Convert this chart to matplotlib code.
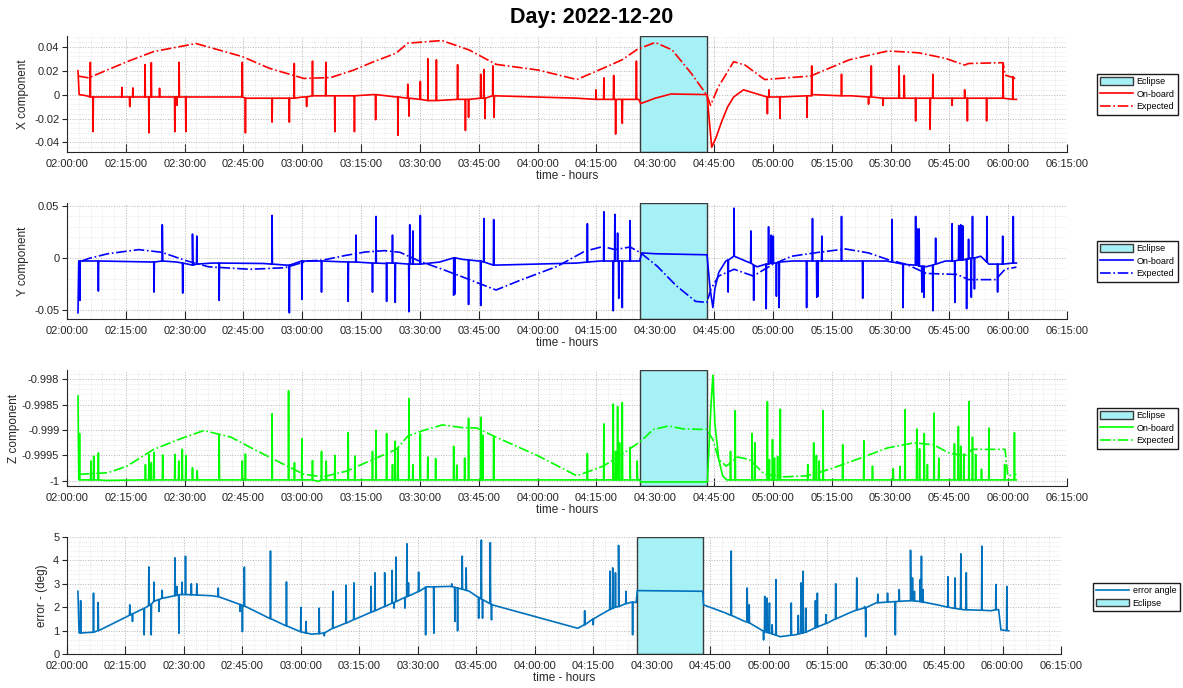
import numpy as np
import pandas as pd
import matplotlib
matplotlib.use('Agg')
import matplotlib.pyplot as plt
import matplotlib.dates as mdates
from matplotlib.ticker import FixedLocator, FuncFormatter, AutoMinorLocator

plt.rcParams['font.family'] = ['Liberation Sans', 'DejaVu Sans']

# all times are minutes after 02:00:00
t0 = pd.Timestamp('2022-12-20 02:00:00')
eclipse = (146.1, 163.2)

# ---- X component ----
x_exp = [(2.8, 0.0155), (5.5, 0.014), (15.3, 0.0275), (22.1, 0.036), (32.9, 0.0427), (44.7, 0.0318),
         (51.6, 0.022), (60.4, 0.0135), (67.3, 0.0143), (73.1, 0.0205), (78.2, 0.0275), (83.9, 0.0346),
         (86.9, 0.043), (95.6, 0.0452), (102.5, 0.0374), (109.4, 0.0253), (120.2, 0.0205), (130.0, 0.0126),
         (136.7, 0.022), (141.5, 0.029), (145.5, 0.038), (150.0, 0.0436), (154.3, 0.0374), (159.2, 0.0177),
         (163.2, -0.0006), (164.1, -0.009), (166.1, 0.0065), (170.0, 0.0275), (172.9, 0.0247), (177.9, 0.0126),
         (189.6, 0.0155), (199.4, 0.029), (209.3, 0.0365), (217.1, 0.035), (224.0, 0.0303), (228.9, 0.0247),
         (229.9, 0.026), (238.7, 0.0267), (239.2, 0.0163), (241.2, 0.0143), (242.1, 0.013)]
x_base = [(2.8, 0.020), (3.1, 0.0), (5.0, -0.001), (6.0, -0.002), (44.0, -0.002), (46.0, -0.003), (58.0, -0.003),
          (60.0, -0.002), (62.5, -0.001), (72.0, -0.001), (78.0, 0.0), (84.0, -0.002), (92.0, -0.005),
          (100.0, -0.004), (106.0, -0.003), (109.0, -0.001), (130.0, -0.003), (145.8, -0.004), (146.3, -0.0075),
          (150.0, -0.003), (154.0, 0.0005), (163.2, 0.0), (164.4, -0.044), (165.5, -0.036), (167.0, -0.022),
          (168.5, -0.010), (170.0, -0.002), (172.5, 0.004), (174.5, 0.002), (177.5, -0.001), (180.0, -0.002),
          (190.0, 0.0), (200.0, -0.001), (210.0, -0.003), (230.0, -0.003), (242.1, -0.004)]
# (time, peak, level under the spike)
x_spk = [(5.96, 0.027, -0.002), (6.65, -0.031, -0.002), (14.0, 0.006, -0.002), (16.0, -0.010, -0.002),
         (16.8, 0.0056, -0.002), (19.9, 0.025, -0.002), (20.9, -0.032, -0.002), (21.5, 0.0267, -0.002),
         (23.6, 0.0053, -0.002), (27.5, -0.031, -0.002), (28.0, -0.009, -0.002), (28.6, 0.027, -0.002),
         (30.3, -0.031, -0.002), (44.7, 0.027, -0.002), (45.5, -0.032, -0.003), (52.3, -0.023, -0.003),
         (56.7, -0.023, -0.003), (57.96, 0.026, -0.003), (61.1, -0.010, -0.002), (62.6, 0.028, -0.001),
         (66.0, 0.027, -0.001), (68.3, -0.031, -0.001), (73.3, -0.031, -0.001), (78.7, -0.021, 0.0),
         (84.4, -0.034, -0.002), (86.9, 0.0087, -0.003), (87.2, -0.018, -0.003), (90.1, 0.011, -0.004),
         (92.0, 0.030, -0.005), (94.2, 0.029, -0.005), (99.6, 0.025, -0.004), (101.6, -0.030, -0.004),
         (102.4, -0.019, -0.004), (105.5, 0.017, -0.003), (106.3, 0.021, -0.003), (106.6, -0.020, -0.003),
         (108.6, 0.024, -0.001), (108.9, -0.019, -0.001), (134.9, 0.004, -0.004), (136.9, 0.014, -0.004),
         (139.4, 0.016, -0.004), (139.9, -0.033, -0.004), (141.6, -0.024, -0.004), (145.2, 0.028, -0.004),
         (178.6, -0.016, -0.002), (179.0, 0.004, -0.002), (181.8, -0.020, -0.002), (188.7, -0.019, -0.001),
         (189.9, 0.024, -0.001), (197.5, 0.017, -0.001), (204.4, -0.008, -0.002), (205.1, 0.024, -0.002),
         (208.1, -0.009, -0.003), (212.2, 0.024, -0.003), (213.5, 0.016, -0.003), (216.4, -0.022, -0.003),
         (220.1, -0.029, -0.003), (220.8, 0.017, -0.003), (225.7, -0.009, -0.003), (228.9, 0.004, -0.003),
         (229.6, -0.022, -0.003), (234.5, -0.022, -0.003), (238.7, 0.026, -0.003), (241.2, 0.015, -0.004)]

# ---- Y component ----
y_exp = [(3.8, -0.003), (5.5, -0.0006), (10.4, 0.004), (18.3, 0.008), (24.2, 0.0054), (30.2, -0.0025),
         (36.1, -0.0086), (46.7, -0.011), (55.5, -0.0095), (61.4, -0.003), (65.2, -0.0022), (71.2, 0.0025),
         (76.1, 0.0057), (81.0, 0.007), (84.9, 0.0054), (89.8, -0.003), (95.7, -0.011), (100.6, -0.018),
         (109.4, -0.031), (115.3, -0.022), (125.1, -0.008), (132.0, 0.0064), (136.7, 0.011), (139.7, 0.008),
         (143.6, 0.0105), (146.3, 0.0048), (150.5, -0.008), (155.4, -0.027), (160.3, -0.042), (163.2, -0.043),
         (164.2, -0.030), (166.2, -0.0175), (170.1, -0.011), (175.0, -0.0175), (179.9, -0.0064), (184.8, 0.0016),
         (191.7, 0.0054), (198.5, 0.0086), (204.4, 0.0048), (209.3, -0.0016), (214.2, -0.0064), (219.1, -0.015),
         (227.0, -0.016), (229.9, -0.021), (236.8, -0.021), (239.2, -0.011), (242.1, -0.0089)]
y_base = [(2.8, -0.053), (3.0, -0.003), (22.0, -0.004), (24.3, -0.0025), (28.0, -0.004), (32.0, -0.007),
          (37.0, -0.005), (50.0, -0.0054), (56.0, -0.007), (60.0, -0.003), (65.0, -0.003), (71.0, -0.004),
          (81.0, -0.0054), (90.0, -0.006), (95.0, -0.004), (98.6, 0.0), (101.0, -0.0015), (105.0, -0.003),
          (109.0, -0.007), (130.0, -0.005), (136.0, -0.003), (146.0, -0.003), (146.6, 0.0048), (150.0, 0.004),
          (163.2, 0.003), (164.0, -0.030), (164.7, -0.048), (165.2, -0.030), (166.2, -0.014), (168.0, -0.003),
          (170.0, 0.0016), (173.0, -0.003), (176.0, -0.0086), (180.0, -0.005), (185.0, -0.003), (209.0, -0.003),
          (214.0, -0.0064), (219.0, -0.0086), (224.0, -0.003), (229.0, -0.0016), (233.0, 0.0016),
          (235.0, -0.006), (242.1, -0.005)]
y_spk = [(3.3, -0.041, -0.003), (8.0, -0.032, -0.003), (22.2, -0.033, -0.004), (24.3, 0.032, -0.003),
         (29.5, -0.034, -0.005), (32.0, 0.023, -0.007), (33.1, 0.021, -0.006), (38.8, -0.041, -0.005),
         (52.3, 0.041, -0.006), (56.7, -0.053, -0.007), (59.9, -0.040, -0.003), (64.9, -0.033, -0.003),
         (71.7, -0.042, -0.004), (73.7, 0.022, -0.004), (77.9, -0.033, -0.005), (78.8, 0.040, -0.005),
         (81.5, -0.042, -0.005), (83.0, 0.022, -0.005), (83.7, -0.043, -0.005), (87.2, -0.052, -0.006),
         (87.4, 0.032, -0.006), (88.2, 0.026, -0.006), (90.1, 0.041, -0.006), (98.6, -0.036, 0.0),
         (98.9, -0.035, 0.0), (102.4, -0.045, -0.002), (105.5, -0.046, -0.003), (106.3, 0.038, -0.004),
         (108.8, 0.037, -0.007), (132.7, 0.033, -0.004), (136.9, 0.0445, -0.003), (139.3, -0.051, -0.003),
         (139.7, 0.042, -0.003), (140.4, 0.024, -0.003), (140.7, -0.039, -0.003), (141.6, -0.048, -0.003),
         (143.6, 0.036, -0.003), (168.6, -0.033, -0.002), (170.1, 0.048, 0.0016), (174.4, 0.026, -0.005),
         (175.1, -0.041, -0.007), (178.3, -0.049, -0.006), (178.9, 0.030, -0.006), (179.6, 0.022, -0.005),
         (180.1, 0.021, -0.005), (180.9, -0.037, -0.005), (181.6, -0.048, -0.004), (188.6, -0.048, -0.003),
         (190.1, 0.038, -0.003), (191.2, -0.038, -0.003), (191.5, -0.037, -0.003), (192.5, 0.021, -0.003),
         (197.5, 0.040, -0.003), (202.9, -0.039, -0.003), (210.4, 0.037, -0.004), (213.2, -0.048, -0.006),
         (216.4, 0.040, -0.007), (216.8, 0.028, -0.007), (217.3, 0.028, -0.008), (218.0, -0.033, -0.008),
         (218.5, -0.038, -0.008), (220.8, -0.051, -0.007), (221.5, 0.019, -0.006), (225.7, 0.033, -0.003),
         (226.4, -0.043, -0.003), (227.4, 0.031, -0.002), (227.9, 0.032, -0.002), (228.4, 0.031, -0.002),
         (229.4, -0.049, -0.001), (229.9, 0.018, -0.001), (230.6, -0.038, 0.0), (230.9, 0.040, 0.0),
         (231.4, -0.030, 0.0), (234.6, 0.040, -0.004), (237.3, -0.033, -0.006), (238.6, 0.021, -0.006),
         (241.3, 0.040, -0.005)]

# ---- Z component ----
z_exp = [(3.0, -0.99987), (10.4, -0.99984), (15.3, -0.99971), (22.1, -0.99938), (29.0, -0.99917),
         (34.9, -0.99901), (41.8, -0.99914), (47.7, -0.99938), (53.6, -0.99961), (60.4, -0.99987),
         (65.2, -0.99992), (71.2, -0.99981), (77.1, -0.99961), (84.0, -0.99938), (86.9, -0.99912),
         (90.8, -0.99901), (95.7, -0.99890), (100.6, -0.99895), (104.5, -0.99896), (109.4, -0.99914),
         (120.2, -0.99951), (130.0, -0.99990), (136.7, -0.99971), (141.5, -0.99948), (146.3, -0.99922),
         (149.5, -0.99899), (153.4, -0.99892), (157.3, -0.99898), (163.2, -0.99899), (164.7, -0.99919),
         (166.2, -0.99958), (168.1, -0.99971), (171.0, -0.99953), (174.0, -0.99958), (177.9, -0.99987),
         (182.8, -0.99992), (188.7, -0.99990), (194.5, -0.99977), (202.4, -0.99955), (209.3, -0.99935),
         (216.1, -0.99925), (221.0, -0.99929), (224.9, -0.99945), (228.9, -0.99951), (230.8, -0.99938),
         (239.2, -0.99938), (239.9, -0.99990), (242.1, -0.99987)]
z_base = [(2.8, -0.99833), (3.0, -0.99996), (10.0, -0.99999), (60.0, -0.99998), (64.0, -1.00001),
          (68.0, -0.99998), (145.8, -0.99997), (146.3, -1.00002), (163.3, -1.00002), (164.2, -0.99854),
          (164.7, -0.99792), (165.2, -0.99886), (166.2, -0.99958), (167.2, -0.99990), (168.2, -0.99998),
          (242.1, -0.99998)]
z_floor = -0.99998
z_spk = [(3.2, -0.99907), (6.1, -0.99961), (6.8, -0.99951), (8.0, -0.99945), (20.0, -0.99968),
         (20.9, -0.99948), (21.5, -0.99964), (22.2, -0.99944), (24.4, -0.99949), (27.5, -0.99948),
         (28.5, -0.99961), (29.4, -0.99938), (30.3, -0.99950), (32.0, -0.99974), (33.2, -0.99980),
         (38.8, -0.99911), (44.7, -0.99961), (45.5, -0.99947), (52.3, -0.99868), (56.5, -0.99823),
         (58.0, -0.99964), (59.9, -0.99917), (62.6, -0.99960), (64.9, -0.99942), (66.1, -0.99961),
         (68.3, -0.99950), (71.7, -0.99905), (73.4, -0.99951), (77.9, -0.99942), (78.8, -0.99901),
         (81.5, -0.99907), (83.0, -0.99968), (83.7, -0.99922), (84.4, -0.99937), (87.2, -0.99838),
         (88.2, -0.99968), (90.1, -0.99907), (92.0, -0.99953), (94.0, -0.99956), (98.6, -0.99932),
         (99.4, -0.99969), (101.4, -0.99955), (102.4, -0.99877), (105.5, -0.99875), (106.0, -0.99910),
         (108.8, -0.99914), (132.7, -0.99946), (136.9, -0.99888), (139.3, -0.99849), (139.9, -0.99942),
         (140.4, -0.99854), (140.9, -0.99925), (141.6, -0.99846), (143.6, -0.99934), (145.4, -0.99961),
         (169.2, -0.99942), (170.4, -0.99862), (174.7, -0.99907), (175.4, -0.99925), (178.6, -0.99844),
         (179.1, -0.99958), (179.9, -0.99919), (180.4, -0.99955), (181.2, -0.99952), (181.9, -0.99859),
         (188.9, -0.99968), (190.4, -0.99925), (191.1, -0.99950), (191.8, -0.99961), (192.8, -0.99862),
         (197.8, -0.99929), (203.2, -0.99921), (205.4, -0.99971), (210.7, -0.99976), (212.4, -0.99971),
         (213.7, -0.99860), (216.7, -0.99898), (217.4, -0.99937), (218.6, -0.99907), (219.4, -0.99968),
         (221.1, -0.99867), (222.3, -0.99955), (226.3, -0.99927), (227.3, -0.99893), (227.9, -0.99932),
         (228.7, -0.99947), (230.0, -0.99844), (230.9, -0.99914), (231.7, -0.99948), (233.2, -0.99977),
         (235.1, -0.99896), (239.1, -0.99968), (241.6, -0.99905)]

# ---- error angle (deg) ----
err_base = [(2.8, 2.68), (3.1, 0.90), (6.5, 0.93), (8.5, 1.03), (15.4, 1.60), (22.3, 2.25), (29.0, 2.54),
            (37.1, 2.49), (44.7, 2.10), (51.9, 1.53), (59.8, 0.96), (62.7, 0.85), (65.5, 0.89), (71.6, 1.32),
            (81.5, 2.03), (90.4, 2.68), (92.3, 2.87), (98.2, 2.89), (103.2, 2.68), (109.1, 2.10), (131.0, 1.10),
            (136.9, 1.68), (141.5, 2.03), (144.9, 2.22), (146.0, 2.20), (146.3, 2.71), (163.1, 2.68),
            (163.3, 2.10), (169.0, 1.75), (173.9, 1.39), (178.9, 0.96), (182.9, 0.74), (186.8, 0.82),
            (192.7, 1.17), (200.6, 1.75), (207.5, 2.18), (216.4, 2.28), (223.3, 2.10), (230.1, 1.89),
            (237.0, 1.85), (239.0, 1.90), (239.6, 1.03), (241.6, 0.99)]
err_spk = [(3.5, 2.28, 0.90), (6.8, 2.60, 0.93), (8.0, 2.20, 1.00), (16.1, 2.10, 1.66), (16.8, 1.39, 1.72),
           (19.8, 0.82, 1.95), (21.0, 3.72, 2.07), (21.6, 0.82, 2.13), (22.3, 3.07, 2.25), (23.6, 1.82, 2.33),
           (24.4, 2.72, 2.38), (27.7, 4.11, 2.49), (28.2, 2.89, 2.51), (28.7, 0.89, 2.52), (29.5, 3.07, 2.54),
           (30.4, 4.18, 2.54), (31.9, 3.00, 2.53), (33.3, 3.00, 2.52), (38.8, 2.82, 2.45), (44.4, 1.82, 2.12),
           (45.0, 0.96, 2.08), (45.5, 3.71, 2.05), (52.2, 4.40, 1.51), (56.3, 3.08, 1.20), (60.0, 1.99, 0.95),
           (61.3, 1.39, 0.90), (64.7, 1.96, 0.87), (66.0, 0.78, 0.90), (68.2, 2.68, 1.10), (71.6, 2.94, 1.32),
           (73.6, 3.04, 1.47), (78.0, 2.89, 1.78), (79.0, 3.47, 1.85), (81.5, 3.47, 2.03), (83.4, 3.57, 2.17),
           (83.9, 1.96, 2.20), (84.4, 4.14, 2.24), (86.7, 1.96, 2.42), (87.2, 4.71, 2.45), (87.6, 3.04, 2.48),
           (90.2, 3.50, 2.67), (92.0, 0.82, 2.85), (94.1, 0.89, 2.87), (98.7, 3.00, 2.88), (99.5, 1.39, 2.85),
           (100.2, 0.99, 2.82), (101.4, 4.18, 2.77), (102.4, 3.68, 2.72), (105.6, 1.53, 2.42), (106.3, 4.87, 2.35),
           (106.6, 1.53, 2.32), (108.6, 4.76, 2.15), (108.9, 1.46, 2.12), (132.8, 1.85, 1.25), (135.0, 1.25, 1.50),
           (139.3, 3.54, 1.90), (140.0, 3.68, 1.95), (140.7, 3.47, 2.00), (141.5, 4.64, 2.03), (143.4, 2.68, 2.15),
           (145.1, 0.82, 2.22), (170.4, 4.40, 1.65), (174.5, 2.82, 1.37), (175.0, 2.10, 1.33), (178.7, 0.60, 0.98),
           (179.0, 2.46, 0.95), (179.6, 2.39, 0.92), (180.2, 2.18, 0.90), (180.9, 1.25, 0.86), (181.9, 3.18, 0.80),
           (185.8, 2.18, 0.80), (187.6, 1.65, 0.85), (188.3, 3.04, 0.88), (188.8, 3.54, 0.90), (189.5, 1.96, 0.93),
           (192.0, 2.28, 1.12), (192.5, 2.60, 1.15), (194.7, 1.68, 1.30), (197.2, 3.00, 1.50), (202.6, 3.25, 1.88),
           (204.6, 2.03, 1.97), (204.9, 0.74, 1.98), (208.0, 2.56, 2.19), (210.5, 2.60, 2.22), (212.5, 0.82, 2.24),
           (213.5, 2.75, 2.25), (216.4, 4.43, 2.28), (216.9, 3.25, 2.28), (217.4, 2.68, 2.27), (218.9, 3.18, 2.24),
           (219.2, 4.18, 2.23), (219.6, 2.75, 2.22), (226.0, 3.30, 2.00), (227.8, 3.25, 1.95), (229.3, 4.28, 1.91),
           (230.7, 3.47, 1.89), (234.7, 4.61, 1.87), (238.3, 2.97, 1.89), (241.1, 2.89, 1.00)]


def to_time(m):
    return t0 + pd.to_timedelta(np.asarray(m, dtype=float), unit='m')


def series(pts):
    m, v = zip(*pts)
    return to_time(m), np.array(v)


def with_spikes(base, spikes, w=0.08):
    pts = list(base)
    for t, peak, lvl in spikes:
        pts += [(t - w, lvl), (t, peak), (t + w, lvl)]
    pts.sort(key=lambda p: p[0])
    return series(pts)


W, H = 1183, 688
fig = plt.figure(figsize=(W / 100, H / 100), dpi=100)
fig.suptitle('Day: 2022-12-20', fontsize=15.5, fontweight='bold', y=1 - 18 / H, va='center')

ecl_face = '#a6f1f6'
ecl_edge = '#3a3a3a'
txt = '#262626'


def style(ax, ylim, yticks, ylabel, ypad):
    ax.set_xlim(t0, t0 + pd.Timedelta(minutes=255))
    ax.xaxis.set_major_locator(mdates.MinuteLocator(byminute=[0, 15, 30, 45]))
    ax.xaxis.set_major_formatter(mdates.DateFormatter('%H:%M:%S'))
    ax.xaxis.set_minor_locator(mdates.MinuteLocator(byminute=range(0, 60, 3)))
    ax.set_ylim(*ylim)
    ax.yaxis.set_major_locator(FixedLocator(yticks))
    ax.yaxis.set_major_formatter(FuncFormatter(lambda v, p: '{:g}'.format(round(v, 6))))
    ax.yaxis.set_minor_locator(AutoMinorLocator(5))
    ax.grid(True, which='major', ls=':', color='#b4b4b4', lw=0.7)
    ax.grid(True, which='minor', ls=':', color='#dadada', lw=0.5)
    ax.set_axisbelow(True)
    for s in ('top', 'right'):
        ax.spines[s].set_visible(False)
    for s in ('left', 'bottom'):
        ax.spines[s].set_color(txt)
        ax.spines[s].set_linewidth(0.8)
    ax.tick_params(axis='x', which='major', direction='in', length=6, width=0.8, pad=5,
                   labelsize=8, colors=txt)
    ax.tick_params(axis='y', which='major', direction='out', length=3.5, width=0.8, pad=2,
                   labelsize=8, colors=txt)
    ax.tick_params(which='minor', length=0)
    ax.set_xlabel('time - hours', fontsize=8.5, color=txt, labelpad=1)
    ax.set_ylabel(ylabel, fontsize=8.5, color=txt, labelpad=ypad)


def legend(ax, handles, labels, left, top):
    ax.legend(handles, labels, loc='upper left', bbox_to_anchor=(left / W, 1 - top / H),
              bbox_transform=fig.transFigure, borderaxespad=0, fontsize=6.5, frameon=True,
              fancybox=False, edgecolor='#1a1a1a', framealpha=1, handlelength=3.6,
              handletextpad=0.45, labelspacing=0.4, borderpad=0.35, handleheight=0.9)


panels = [
    (x_base, x_spk, x_exp, 'red', (-0.048, 0.049), [-0.04, -0.02, 0, 0.02, 0.04], 'X component', 4, 36, 74),
    (y_base, y_spk, y_exp, 'blue', (-0.059, 0.053), [-0.05, 0, 0.05], 'Y component', 4, 203, 241),
    (z_base, [(t, p, z_floor) for t, p in z_spk], z_exp, '#00ff00', (-1.0001, -0.99782),
     [-1, -0.9995, -0.999, -0.9985, -0.998], 'Z component', 1, 370, 408),
]

for base, spk, exp, col, ylim, yticks, ylabel, ypad, top, legtop in panels:
    ax = fig.add_axes([67 / W, 1 - (top + 116) / H, 1000 / W, 116 / H])
    ecl = ax.axvspan(to_time([eclipse[0]])[0], to_time([eclipse[1]])[0], facecolor=ecl_face,
                     edgecolor=ecl_edge, lw=1.0, zorder=1)
    tt, vv = with_spikes(base, spk)
    l1, = ax.plot(tt, vv, color=col, lw=1.2, zorder=3)
    te, ve = series(exp)
    l2, = ax.plot(te, ve, color=col, lw=1.2, ls='-.', zorder=3)
    style(ax, ylim, yticks, ylabel, ypad)
    legend(ax, [ecl, l1, l2], ['Eclipse', 'On-board', 'Expected'], 1097, legtop)

ax = fig.add_axes([67 / W, 1 - (537 + 117) / H, 994 / W, 117 / H])
ecl = ax.axvspan(to_time([eclipse[0]])[0], to_time([eclipse[1]])[0], facecolor=ecl_face,
                 edgecolor=ecl_edge, lw=1.0, zorder=1)
tt, vv = with_spikes(err_base, err_spk)
l1, = ax.plot(tt, vv, color='#0072bd', lw=1.2, zorder=3)
style(ax, (0, 5), [0, 1, 2, 3, 4, 5], 'error - (deg)', 4)
legend(ax, [l1, ecl], ['error angle', 'Eclipse'], 1093, 583)

fig.savefig('out.png', dpi=100)
